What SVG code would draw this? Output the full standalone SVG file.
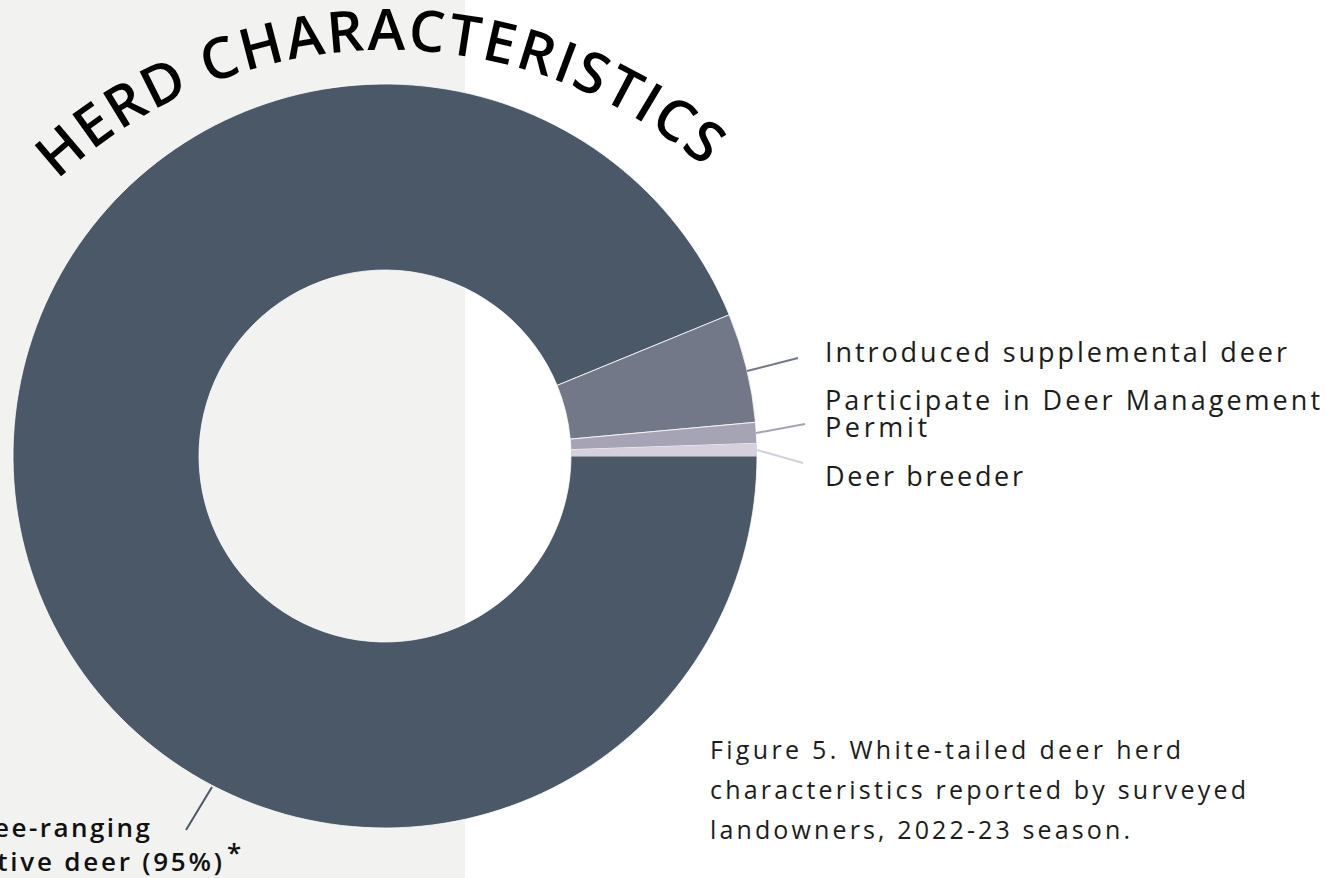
<svg xmlns="http://www.w3.org/2000/svg" width="1327" height="878" viewBox="0 0 1327 878">
<style>
.lbl{font-family:"Open Sans","Liberation Sans",sans-serif;font-size:27px;fill:#1c1c1c;}
.cap{font-family:"Open Sans","Liberation Sans",sans-serif;font-size:25px;fill:#1c1c1c;}
.fr{font-family:"Open Sans","Liberation Sans",sans-serif;font-size:26px;font-weight:600;fill:#111;}
.title{font-family:"Open Sans","Liberation Sans",sans-serif;font-size:57px;font-weight:600;fill:#000;}
.seg{stroke:#ffffff;stroke-width:0.8;}
.lead{stroke-width:2;fill:none;}
</style>
<defs>
<path id="titleArc" d="M -97 535 A 485 485 0 0 1 873 535"/>
</defs>
<rect x="0" y="0" width="1327" height="878" fill="#ffffff"/>
<rect x="0" y="0" width="465" height="878" fill="#f2f2f0"/>
<g id="title">
<text class="title"><textPath href="#titleArc" startOffset="752" text-anchor="middle" textLength="708" lengthAdjust="spacing">HERD CHARACTERISTICS</textPath></text>
</g>
<g id="slice-free-ranging">
<path class="seg" fill="#4a5868" d="M 729.18 314.84 A 372 372 0 1 0 757 456 L 571 456 A 186 186 0 1 1 557.09 385.42 Z"/>
</g>
<g id="slice-introduced">
<path class="seg" fill="#727888" d="M 755.47 422.29 A 372 372 0 0 0 729.18 314.84 L 557.09 385.42 A 186 186 0 0 1 570.23 439.14 Z"/>
</g>
<g id="slice-participate">
<path class="seg" fill="#a6a4b4" d="M 756.78 443.34 A 372 372 0 0 0 755.47 422.29 L 570.23 439.14 A 186 186 0 0 1 570.89 449.67 Z"/>
</g>
<g id="slice-breeder">
<path fill="#d6d0dc" d="M 757 456 A 372 372 0 0 0 756.78 443.34 L 570.89 449.67 A 186 186 0 0 1 571 456 Z"/>
</g>
<g id="connectors">
<line class="lead" stroke="#727888" x1="747" y1="371" x2="798" y2="358"/>
<line class="lead" stroke="#a6a4b4" x1="756" y1="433" x2="805" y2="424"/>
<line class="lead" stroke="#d6d0dc" x1="757" y1="450" x2="803" y2="463"/>
<line class="lead" stroke="#4a5868" x1="212" y1="787" x2="186" y2="830"/>
</g>
<g id="label-introduced">
<text class="lbl" x="825" y="362" textLength="462" lengthAdjust="spacing">Introduced supplemental deer</text>
</g>
<g id="label-participate">
<text class="lbl" x="825" y="410" textLength="495" lengthAdjust="spacing">Participate in Deer Management</text>
<text class="lbl" x="825" y="437" textLength="102" lengthAdjust="spacing">Permit</text>
</g>
<g id="label-breeder">
<text class="lbl" x="825" y="486" textLength="198" lengthAdjust="spacing">Deer breeder</text>
</g>
<g id="label-free-ranging">
<text class="fr" x="150" y="837" text-anchor="end" textLength="186" lengthAdjust="spacing">Free-ranging</text>
<text class="fr" x="222" y="871" text-anchor="end" textLength="262" lengthAdjust="spacing">native deer (95%)</text>
<text class="fr" x="227" y="862" font-size="20">*</text>
</g>
<g id="caption">
<text class="cap" x="710" y="759" textLength="471" lengthAdjust="spacing">Figure 5. White-tailed deer herd</text>
<text class="cap" x="710" y="799" textLength="536" lengthAdjust="spacing">characteristics reported by surveyed</text>
<text class="cap" x="710" y="839" textLength="420" lengthAdjust="spacing">landowners, 2022-23 season.</text>
</g>
</svg>
